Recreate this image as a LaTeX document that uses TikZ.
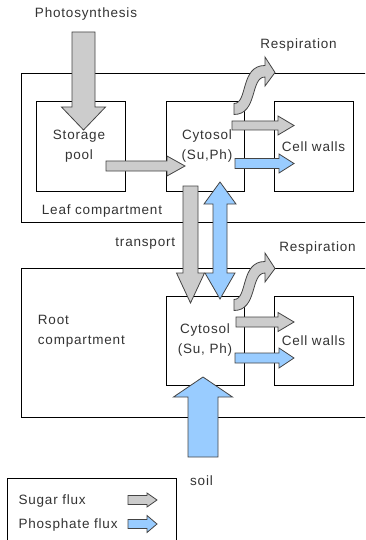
\documentclass[tikz,border=0pt]{standalone}
\usepackage{fontspec}
\setmainfont{Liberation Sans}[LetterSpace=6]
\definecolor{sugarc}{HTML}{CCCCCC}
\definecolor{phosc}{HTML}{99CCFF}
\definecolor{outl}{HTML}{444444}
\definecolor{txt}{HTML}{333333}
\newcommand\RArrow[7]{%
  \path[#1] (#2,#5-#6) -- (#3,#5-#6) -- (#3,#5-#7) -- (#4,#5) -- (#3,#5+#7) -- (#3,#5+#6) -- (#2,#5+#6) -- cycle;}
\newcommand\VArrow[7]{%
  \path[#1] (#2-#6,#3) -- (#2+#6,#3) -- (#2+#6,#4) -- (#2+#7,#4) -- (#2,#5) -- (#2-#7,#4) -- (#2-#6,#4) -- cycle;}
\begin{document}
\begin{tikzpicture}[x=1pt,y=-1pt,
  box/.style={draw=black,line width=1pt,inner sep=0pt},
  lbl/.style={font=\fontsize{13.5}{20}\selectfont,inner sep=0pt,text=txt,align=center},
  sugar/.style={fill=sugarc,draw=outl,line width=0.8pt},
  phos/.style={fill=phosc,draw=outl,line width=0.8pt},
  resp/.pic={\path[sugar] (234,103.5) .. controls (248,103.5) and (240,65.5) .. (265,65.5)
      -- (265,57) -- (275,72.5) -- (265,86) -- (265,77)
      .. controls (250,77) and (258,114.5) .. (234,114.5) -- cycle;}]
\useasboundingbox (0,0) rectangle (365,540);
\clip (0,0) rectangle (365,540);
\fill[white] (0,0) rectangle (365,540);
% compartments
\draw[line width=1pt] (21,74) rectangle (380,222);
\draw[line width=1pt] (21,268) rectangle (380,417);
% leaf boxes
\node[box,minimum width=89pt,minimum height=89pt] (storage) at (80.5,146.5) {};
\node[box,minimum width=78pt,minimum height=89pt] (cytL) at (205,146.5) {};
\node[box,minimum width=79pt,minimum height=89pt] (wallL) at (313.5,146.5) {};
% root boxes
\node[box,minimum width=78pt,minimum height=89pt] (cytR) at (205,340.5) {};
\node[box,minimum width=79pt,minimum height=89pt] (wallR) at (313.5,340.5) {};
% legend box
\draw[line width=1pt] (7,478) rectangle (176,560);
% texts
\node[lbl] (photo) at (86,14) {Photosynthesis};
\node[lbl] (respL) at (298.5,45) {Respiration};
\node[lbl] (respR) at (317.5,248) {Respiration};
\node[lbl] (stxt) at (79,146.5) {Storage\\pool};
\node[lbl] (cLtxt) at (207,146.5) {Cytosol\\(Su,Ph)};
\node[lbl] (wLtxt) at (313.5,146.5) {Cell walls};
\node[lbl,anchor=west] (leaf) at (41.7,210.7) {Leaf compartment};
\node[lbl] (transport) at (145.3,243.3) {transport};
\node[lbl,anchor=west,align=left] (root) at (37.7,331.5) {Root\\compartment};
\node[lbl] (cRtxt) at (205,339.7) {Cytosol\\(Su, Ph)};
\node[lbl] (wRtxt) at (313.5,341) {Cell walls};
\node[lbl] (soil) at (201.5,480.7) {soil};
\node[lbl,anchor=west] (sug) at (18.3,500.7) {Sugar flux};
\node[lbl,anchor=west] (pho) at (18.3,525) {Phosphate flux};
% arrows
\VArrow{sugar}{83.5}{32}{107}{130}{11.5}{22}
\RArrow{sugar}{106}{167}{185}{166}{5}{10}
\RArrow{sugar}{232}{278}{294}{125.5}{4.5}{9.5}
\RArrow{phos}{235}{279}{294}{163.5}{5}{9.5}
\RArrow{sugar}{236}{278}{294}{322}{5}{9.5}
\RArrow{phos}{235}{279}{294}{358}{5}{10}
\RArrow{sugar}{128}{147}{157}{500}{4.5}{7}
\RArrow{phos}{128}{147}{157}{524}{4.5}{8.5}
\VArrow{sugar}{190.5}{186}{273}{303}{7.5}{14}
\path[phos] (220,182) -- (236,204) -- (227,204) -- (227,273) -- (235,273) -- (220,299)
  -- (205,273) -- (213,273) -- (213,204) -- (204,204) -- cycle;
\VArrow{phos}{203}{457}{397}{377}{15}{29.5}
\pic at (0,0) {resp};
\pic at (0,196) {resp};
\end{tikzpicture}
\end{document}
